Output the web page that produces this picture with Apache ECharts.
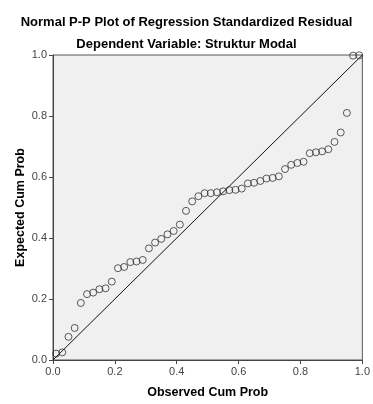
<!DOCTYPE html>
<html>
<head>
<meta charset="utf-8">
<script src="https://cdn.jsdelivr.net/npm/echarts@6/dist/echarts.min.js"></script>
<style>
  html, body { margin: 0; padding: 0; background: #fff; }
  #chart { width: 373px; height: 404px; }
</style>
</head>
<body>
<div id="chart"></div>
<script>
// Observed cumulative probability of each standardized residual (x)
const observedCumProb = [
  0.01, 0.03, 0.05, 0.07, 0.09, 0.11, 0.13, 0.15, 0.17, 0.19,
  0.21, 0.23, 0.25, 0.27, 0.29, 0.31, 0.33, 0.35, 0.37, 0.39,
  0.41, 0.43, 0.45, 0.47, 0.49, 0.51, 0.53, 0.55, 0.57, 0.59,
  0.61, 0.63, 0.65, 0.67, 0.69, 0.71, 0.73, 0.75, 0.77, 0.79,
  0.81, 0.83, 0.85, 0.87, 0.89, 0.91, 0.93, 0.95, 0.97, 0.99
];
// Expected cumulative probability under the normal distribution (y)
const expectedCumProb = [
  0.021, 0.025, 0.076, 0.105, 0.187, 0.216, 0.221, 0.232, 0.235, 0.257,
  0.301, 0.305, 0.321, 0.323, 0.328, 0.366, 0.385, 0.397, 0.412, 0.423,
  0.444, 0.489, 0.520, 0.537, 0.547, 0.547, 0.550, 0.553, 0.557, 0.558,
  0.562, 0.579, 0.581, 0.587, 0.595, 0.597, 0.602, 0.626, 0.640, 0.646,
  0.650, 0.678, 0.681, 0.684, 0.691, 0.715, 0.746, 0.810, 0.998, 0.999
];
// Reference line y = x
const refLine = [[0, 0], [1, 1]];
const tickValues = [0, 0.2, 0.4, 0.6, 0.8, 1.0];

const points = observedCumProb.map((x, i) => [x, expectedCumProb[i]]);

const FONT = '"Liberation Sans", Arial, sans-serif';

const axisCommon = {
  type: 'value',
  min: 0,
  max: 1,
  interval: 0.2,
  nameLocation: 'middle',
  nameGap: 26,
  nameMoveOverlap: false,
  nameTextStyle: { fontFamily: FONT, fontSize: 12.5, fontWeight: 'bold', color: '#000' },
  axisLine: { show: true, lineStyle: { color: '#444', width: 1 } },
  axisTick: { show: true, length: 4, inside: false, lineStyle: { color: '#444' } },
  axisLabel: {
    fontFamily: FONT, fontSize: 11, color: '#444', margin: 6,
    formatter: v => tickValues.includes(Math.round(v * 10) / 10) ? v.toFixed(1) : ''
  },
  splitLine: { show: false }
};

const chart = echarts.init(document.getElementById('chart'), null, { renderer: 'canvas' });
chart.setOption({
  animation: false,
  backgroundColor: '#fff',
  title: [
    {
      text: 'Normal P-P Plot of Regression Standardized Residual',
      left: 'center', top: 11,
      textStyle: { fontFamily: FONT, fontSize: 13, fontWeight: 'bold', color: '#000' }
    },
    {
      text: 'Dependent Variable: Struktur Modal',
      left: 'center', top: 33,
      textStyle: { fontFamily: FONT, fontSize: 13, fontWeight: 'bold', color: '#000' }
    }
  ],
  grid: {
    left: 53, right: 8, top: 55, bottom: 38,
    show: true, backgroundColor: '#f0f0f0', borderColor: '#555', borderWidth: 1
  },
  xAxis: Object.assign({}, axisCommon, { name: 'Observed Cum Prob', nameGap: 26 }),
  yAxis: Object.assign({}, axisCommon, { name: 'Expected Cum Prob', nameGap: 26 }),
  series: [
    {
      type: 'line',
      data: refLine,
      symbol: 'none',
      lineStyle: { color: '#111', width: 1 },
      silent: true,
      z: 2
    },
    {
      type: 'scatter',
      data: points,
      symbol: 'circle',
      symbolSize: 7,
      itemStyle: { color: 'transparent', borderColor: '#333', borderWidth: 1 },
      z: 3
    }
  ]
});
</script>
</body>
</html>
